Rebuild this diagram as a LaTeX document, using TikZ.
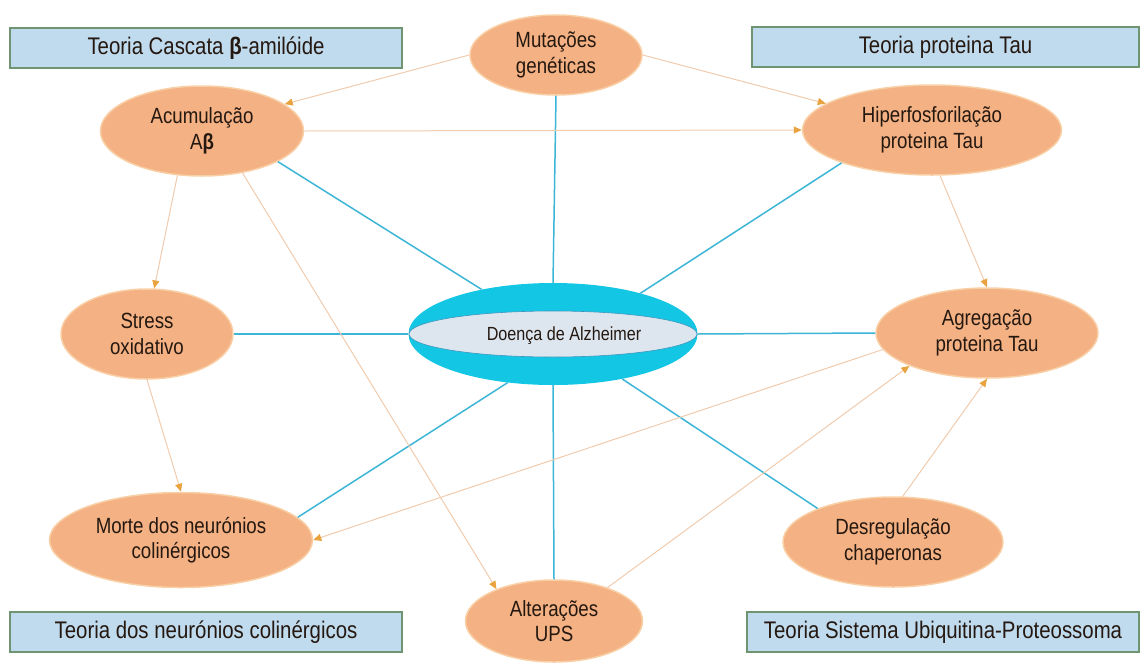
\documentclass[tikz,border=0pt]{standalone}
\usepackage{fontspec}
\setmainfont{Liberation Sans}[FakeStretch=0.85]
\usepackage{tikz}
\usetikzlibrary{shapes.geometric,arrows.meta}

\definecolor{peach}{HTML}{F4B183}
\definecolor{peachedge}{HTML}{F9CFA6}
\definecolor{arrline}{HTML}{F0CBAE}
\definecolor{arrtip}{HTML}{E8A23E}
\definecolor{cyanlink}{HTML}{3DB5D6}
\definecolor{cyanfill}{HTML}{13C6E3}
\definecolor{cyanedge}{HTML}{3C96BE}
\definecolor{paleblue}{HTML}{DDE6EF}
\definecolor{theorybox}{HTML}{C0DAEE}
\definecolor{theoryedge}{HTML}{6F9472}
\definecolor{ink}{HTML}{241810}

\tikzset{
  cause/.style={ellipse, fill=peach, draw=peachedge, line width=1.5pt,
    inner sep=0pt, align=center, text=ink, font=\fontsize{22}{25.5}\selectfont},
  theory/.style={rectangle, fill=theorybox, draw=theoryedge, line width=1.2pt,
    minimum height=40pt, inner sep=0pt, text=ink, font=\fontsize{24}{28}\selectfont},
  link/.style={cyanlink, line width=1.5pt},
  leads/.style={arrline, line width=1pt, -{Triangle[length=8pt,width=7pt,color=arrtip]}},
}

\begin{document}
\begin{tikzpicture}[x=1pt, y=-1pt]
        \useasboundingbox (0,0) rectangle (1140,662);

        \node[theory, minimum width=392pt] (tcasc) at (206,48) {Teoria Cascata \textbf{β}-amilóide};
        \node[theory, minimum width=387pt] (ttau) at (945.5,47) {Teoria proteina Tau};
        \node[theory, minimum width=392pt] (tcol) at (206,632) {Teoria dos neurónios colinérgicos};
        \node[theory, minimum width=392pt] (tups) at (943,632) {Teoria Sistema Ubiquitina-Proteossoma};

        \node[ellipse, fill=cyanfill, minimum width=289pt, minimum height=102pt, inner sep=0pt] (ad) at (553,334) {};
        \filldraw[fill=paleblue, draw=cyanedge, line width=0.6pt] (ad.center) ellipse [x radius=144pt, y radius=23pt];
        \node[font=\fontsize{19}{22}\selectfont, text=ink] (adtext) at (564,336) {Doença de Alzheimer};

        \node[cause, minimum width=172pt, minimum height=80pt] (mut) at (556,55) {Mutações\\genéticas};
        \node[cause, minimum width=203pt, minimum height=90pt] (acu) at (202,131) {Acumulação\\A\textbf{β}};
        \node[cause, minimum width=259pt, minimum height=90pt] (hip) at (932,130) {Hiperfosforilação\\proteina Tau};
        \node[cause, minimum width=172pt, minimum height=90pt] (stress) at (147,334) {Stress\\oxidativo};
        \node[cause, minimum width=222pt, minimum height=90pt] (agr) at (987,333) {Agregação\\proteina Tau};
        \node[cause, minimum width=263pt, minimum height=95pt] (morte) at (181,540) {Morte dos neurónios\\colinérgicos};
        \node[cause, minimum width=220pt, minimum height=90pt] (desreg) at (893,542) {Desregulação\\chaperonas};
        \node[cause, minimum width=177pt, minimum height=82pt] (alt) at (554,621) {Alterações\\UPS};

        \draw[link] (ad.north) -- (mut.south);
        \draw[link] (ad.148) -- (acu.-22);
        \draw[link] (ad.25) -- (hip.200);
        \draw[link] (ad.west) -- (stress.east);
        \draw[link] (ad.east) -- (agr.west);
        \draw[link] (ad.-133) -- (morte.11);
        \draw[link] (ad.south) -- (alt.north);
        \draw[link] (ad.-33) -- (desreg.156);

        \draw[leads] (mut.west) -- (acu.18);
        \draw[leads] (mut.east) -- (hip.166);
        \draw[leads] (acu.east) -- (hip.west);
        \draw[leads] (acu.241) -- (stress.81);
        \draw[leads] (acu.-46) -- (alt.151);
        \draw[leads] (stress.south) -- (morte.north);
        \draw[leads] (hip.-80) -- (agr.north);
        \draw[leads] (agr.189) -- (morte.east);
        \draw[leads] (alt.32) -- (agr.203);
        \draw[leads] (desreg.78) -- (agr.south);
    \end{tikzpicture}
\end{document}
